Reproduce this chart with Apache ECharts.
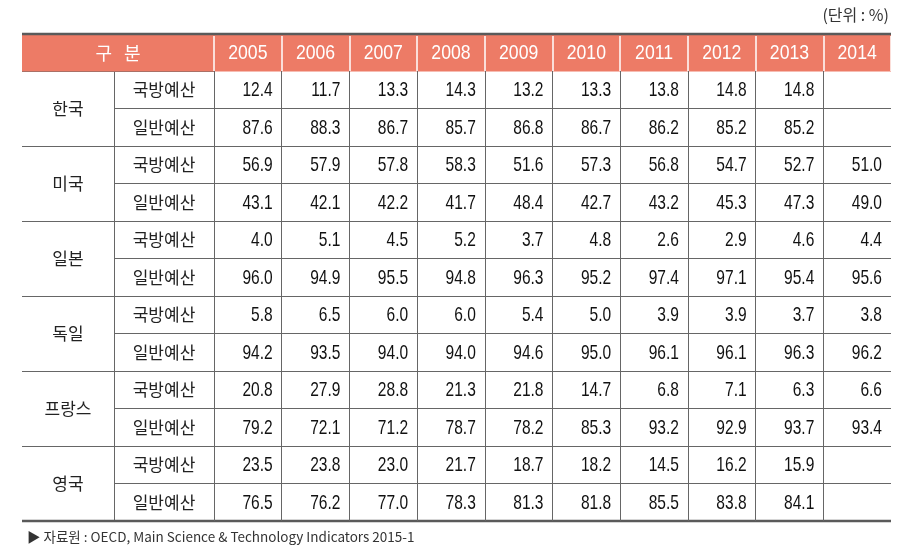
<!DOCTYPE html>
<html>
<head>
<meta charset="utf-8">
<script src="https://cdn.jsdelivr.net/npm/echarts@6/dist/echarts.min.js"></script>
<style>
html,body{margin:0;padding:0;background:#fff;}
#main{width:916px;height:559px;}
</style>
</head>
<body>
<div id="main"></div>
<script>
// ---- data ----
const years = ['2005','2006','2007','2008','2009','2010','2011','2012','2013','2014'];
const countries = ['한국','미국','일본','독일','프랑스','영국'];
const itemNames = ['국방예산','일반예산'];
const headerLabel = '구   분';
const unitText = '(단위 : %)';
const sourceText = '▶ 자료원 : OECD, Main Science & Technology Indicators 2015-1';

const korDefense = [12.4,11.7,13.3,14.3,13.2,13.3,13.8,14.8,14.8,null];
const korGeneral = [87.6,88.3,86.7,85.7,86.8,86.7,86.2,85.2,85.2,null];
const usaDefense = [56.9,57.9,57.8,58.3,51.6,57.3,56.8,54.7,52.7,51.0];
const usaGeneral = [43.1,42.1,42.2,41.7,48.4,42.7,43.2,45.3,47.3,49.0];
const jpnDefense = [4.0,5.1,4.5,5.2,3.7,4.8,2.6,2.9,4.6,4.4];
const jpnGeneral = [96.0,94.9,95.5,94.8,96.3,95.2,97.4,97.1,95.4,95.6];
const deuDefense = [5.8,6.5,6.0,6.0,5.4,5.0,3.9,3.9,3.7,3.8];
const deuGeneral = [94.2,93.5,94.0,94.0,94.6,95.0,96.1,96.1,96.3,96.2];
const fraDefense = [20.8,27.9,28.8,21.3,21.8,14.7,6.8,7.1,6.3,6.6];
const fraGeneral = [79.2,72.1,71.2,78.7,78.2,85.3,93.2,92.9,93.7,93.4];
const gbrDefense = [23.5,23.8,23.0,21.7,18.7,18.2,14.5,16.2,15.9,null];
const gbrGeneral = [76.5,76.2,77.0,78.3,81.3,81.8,85.5,83.8,84.1,null];

const rows = [korDefense,korGeneral,usaDefense,usaGeneral,jpnDefense,jpnGeneral,
              deuDefense,deuGeneral,fraDefense,fraGeneral,gbrDefense,gbrGeneral];
const rowLabels = countries.flatMap(() => itemNames);
const cellData = [];
rows.forEach((r, ri) => r.forEach((v, ci) => { if (v != null) cellData.push([ci, ri, v]); }));
const headerData = years.map((y, i) => [i, 0, y]);

// ---- layout ----
const W = 916, H = 559;
const TABLE_L = 22, TABLE_R = 891;
const GRID_L = 214, GRID_T = 71, GRID_B = 521;
const HEAD_T = 34;
const COL2_L = 114;
const NUM_FONT = 'Liberation Sans, Arial, sans-serif';
const KR_FONT = 'Noto Sans CJK KR, sans-serif';
const LINE = '#666';

const chart = echarts.init(document.getElementById('main'), null, {renderer:'canvas'});
chart.setOption({
  animation: false,
  backgroundColor: '#fff',
  title: [
    {text: unitText, right: W - TABLE_R + 2, top: 7, padding: 0,
     textStyle:{fontSize:16, fontWeight:'normal', color:'#333', fontFamily: KR_FONT}},
    {text: sourceText, left: 27, top: 530, padding: 0,
     textStyle:{fontSize:13.5, fontWeight:'normal', color:'#333', fontFamily: KR_FONT}}
  ],
  grid: {left: GRID_L, right: W - TABLE_R, top: GRID_T, bottom: H - GRID_B, containLabel:false},
  xAxis: {
    type:'category', data: years, position:'top', boundaryGap:true, z: 10,
    axisLine:{show:false},
    axisTick:{show:true, length: GRID_T - HEAD_T - 2, lineStyle:{color:'#fff', width:1.5}},
    axisLabel:{show:false},
    splitLine:{show:true, showMinLine:true, showMaxLine:false, lineStyle:{color:LINE, width:1}}
  },
  yAxis: [
    {
      type:'category', data: rowLabels, inverse:true, position:'left', offset:0,
      axisLine:{show:true, lineStyle:{color:LINE, width:1}},
      axisTick:{show:true, length: GRID_L - COL2_L, lineStyle:{color:LINE, width:1}},
      axisLabel:{color:'#222', fontSize:17, fontFamily: KR_FONT, margin:(GRID_L - COL2_L)/2, align:'center'},
      splitLine:{show:true, showMinLine:false, showMaxLine:false, lineStyle:{color:LINE, width:1}}
    },
    {
      type:'category', data: countries, inverse:true, position:'left', offset: GRID_L - COL2_L,
      axisLine:{show:true, lineStyle:{color:LINE, width:1}},
      axisTick:{show:true, length: COL2_L - TABLE_L, lineStyle:{color:LINE, width:1}},
      axisLabel:{color:'#222', fontSize:17, fontFamily: KR_FONT, margin:(COL2_L - TABLE_L)/2, align:'center'},
      splitLine:{show:false}
    }
  ],
  graphic: [
    {type:'rect', z:1, shape:{x:TABLE_L, y:HEAD_T, width:TABLE_R - TABLE_L, height:GRID_T - HEAD_T + 0.5},
     style:{fill:'#ED7B66'}},
    {type:'line', z:3, shape:{x1:TABLE_L, y1:HEAD_T, x2:TABLE_R, y2:HEAD_T},
     style:{stroke:'#5a5a5a', lineWidth:2.5}},
    {type:'line', z:3, shape:{x1:TABLE_L, y1:GRID_B, x2:TABLE_R, y2:GRID_B},
     style:{stroke:'#5a5a5a', lineWidth:2.5}},
    {type:'text', z:3, x:(TABLE_L + GRID_L)/2, y:(HEAD_T + GRID_T)/2 + 1,
     style:{text: headerLabel, fill:'#fff', fontSize:18, fontFamily: KR_FONT, align:'center', verticalAlign:'middle'}}
  ],
  series: [{
    type:'custom', coordinateSystem:'cartesian2d', xAxisIndex:0, yAxisIndex:0,
    data: cellData, encode:{x:0, y:1}, silent:true,
    renderItem: function (params, api) {
      const p = api.coord([api.value(0), api.value(1)]);
      const w = api.size([1, 0])[0];
      return {
        type:'text', x: p[0] + w/2 - 9, y: p[1] + 0.5, scaleX: 0.74,
        style:{x:0, y:0, text: api.value(2).toFixed(1), fill:'#111', fontSize:21, fontFamily: NUM_FONT,
               align:'right', verticalAlign:'middle'}
      };
    }
  }, {
    type:'custom', coordinateSystem:'cartesian2d', xAxisIndex:0, yAxisIndex:0, z: 20,
    data: headerData, encode:{x:0, y:1}, silent:true, clip:false,
    renderItem: function (params, api) {
      const p = api.coord([api.value(0), api.value(1)]);
      const h = api.size([0, 1])[1];
      return {
        type:'text', x: p[0], y: p[1] - h/2 - 17.5, scaleX: 0.84,
        style:{x:0, y:0, text: years[api.value(0)], fill:'#fff', fontSize:21, fontFamily: NUM_FONT,
               align:'center', verticalAlign:'middle'}
      };
    }
  }]
});
</script>
</body>
</html>
